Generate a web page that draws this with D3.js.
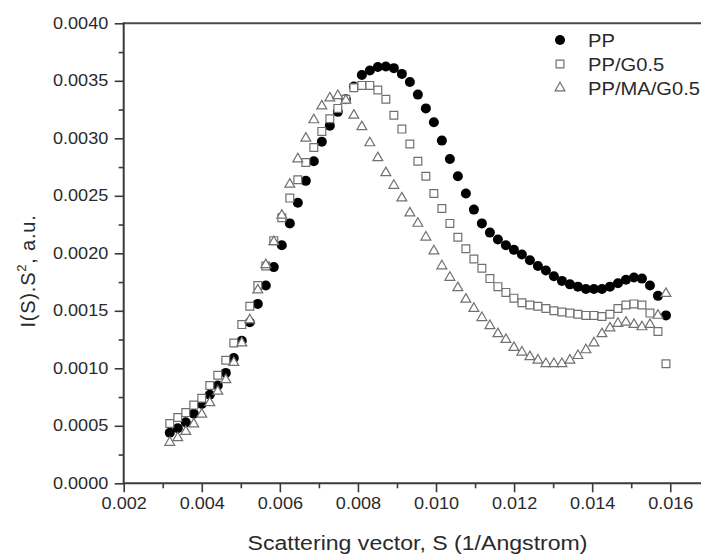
<!DOCTYPE html>
<html>
<head>
<meta charset="utf-8">
<script src="https://cdn.jsdelivr.net/npm/d3@7"></script>
<style>
  html, body { margin: 0; padding: 0; background: #fff; }
  svg { display: block; }
  text { font-family: "Liberation Sans", Arial, sans-serif; fill: #2a2a2a; }
</style>
</head>
<body>
<svg id="chart" width="701" height="554"></svg>
<script>
// ---- Data ----
const seriesNames = ["PP", "PP/G0.5", "PP/MA/G0.5"];

const sValues = [0.00318,0.003385,0.00359,0.003795,0.0040,0.004205,0.00441,0.004615,0.00482,0.005025,
  0.00523,0.005435,0.00564,0.005845,0.00605,0.006255,0.00646,0.006665,0.00687,0.007075,
  0.00728,0.007485,0.00769,0.007895,0.0081,0.008305,0.00851,0.008715,0.00892,0.009125,
  0.00933,0.009535,0.00974,0.009945,0.01015,0.010355,0.01056,0.010765,0.01097,0.011175,
  0.01138,0.011585,0.01179,0.011995,0.0122,0.012405,0.01261,0.012815,0.01302,0.013225,
  0.01343,0.013635,0.01384,0.014045,0.01425,0.014455,0.01466,0.014865,0.01507,0.015275,
  0.01548,0.015685,0.01589];

const ppValues = [0.00044,0.000478,0.00053,0.000605,0.00069,0.00077,0.00085,0.00096,0.00109,0.00124,
  0.00140,0.00156,0.00172,0.00188,0.00207,0.00226,0.00244,0.00263,0.00280,0.00297,
  0.00311,0.00323,0.00334,0.00345,0.00355,0.00359,0.00362,0.003625,0.00361,0.00356,
  0.00349,0.00338,0.00326,0.00314,0.00298,0.00282,0.00267,0.00252,0.00238,0.00226,
  0.00218,0.00212,0.00207,0.00203,0.00199,0.00194,0.00189,0.00185,0.00180,0.00176,
  0.00173,0.00171,0.00169,0.00169,0.00169,0.00171,0.00174,0.00177,0.00179,0.00178,
  0.00172,0.00163,0.00146];

const ppG05Values = [0.00052,0.000572,0.000615,0.00068,0.00074,0.00085,0.00094,0.00107,0.00122,0.00138,
  0.00154,0.00172,0.00189,0.00211,0.00231,0.00248,0.00264,0.00279,0.00292,0.00306,
  0.00317,0.00326,0.00334,0.00344,0.00346,0.00346,0.00342,0.00334,0.00320,0.00308,
  0.00295,0.00280,0.00267,0.00252,0.00239,0.00226,0.00214,0.00204,0.00195,0.00187,
  0.00178,0.00171,0.00166,0.00161,0.00157,0.00155,0.00154,0.00152,0.00150,0.00149,
  0.00148,0.00147,0.00146,0.00146,0.00145,0.00147,0.00152,0.00155,0.00156,0.00155,
  0.00148,0.00132,0.00104];

const ppMaG05Values = [0.000355,0.000395,0.00045,0.000515,0.0006,0.0007,0.0008,0.0009,0.00105,0.00122,
  0.00142,0.00168,0.00190,0.0021,0.00233,0.0026,0.00282,0.00300,0.00316,0.00328,
  0.00335,0.00337,0.00333,0.00320,0.00310,0.00296,0.00283,0.00270,0.00259,0.00248,
  0.00235,0.00226,0.00214,0.00202,0.00189,0.00179,0.00170,0.00160,0.00152,0.00144,
  0.00137,0.00130,0.00125,0.00118,0.00114,0.00110,0.00107,0.00104,0.00104,0.00104,
  0.00107,0.00111,0.00116,0.00122,0.00130,0.00135,0.00139,0.00140,0.00138,0.00136,
  0.00138,0.00146,0.00165];

const xTickValues = [0.002,0.004,0.006,0.008,0.010,0.012,0.014,0.016];
const xMinorTickValues = [0.003,0.005,0.007,0.009,0.011,0.013,0.015,0.017];
const yTickValues = [0.0000,0.0005,0.0010,0.0015,0.0020,0.0025,0.0030,0.0035,0.0040];
const yMinorTickValues = [0.00025,0.00075,0.00125,0.00175,0.00225,0.00275,0.00325,0.00375];

const xTitle = "Scattering vector, S (1/Angstrom)";

// ---- Layout ----
const svg = d3.select("#chart");
const X0 = 123.7, YB = 483.3, YT = 23.3;
const x = d3.scaleLinear().domain([0.002, 0.0171]).range([X0, X0 + 15.1 * 39.04]);
const y = d3.scaleLinear().domain([0, 0.004]).range([YB, YT]);
const axisColor = "#3a3a3a";
const textScale = 1.13;

// frame top line
svg.append("line")
  .attr("x1", X0).attr("x2", 701).attr("y1", y(0.004)).attr("y2", y(0.004))
  .attr("stroke", "#4a4a4a").attr("stroke-width", 2);

// minor ticks
svg.append("g").attr("transform", `translate(0,${YB})`)
  .call(d3.axisBottom(x).tickValues(xMinorTickValues).tickSize(5).tickFormat(""))
  .call(g => g.select(".domain").remove())
  .call(g => g.selectAll("line").attr("stroke", axisColor).attr("stroke-width", 1.6));
svg.append("g").attr("transform", `translate(${X0},0)`)
  .call(d3.axisLeft(y).tickValues(yMinorTickValues).tickSize(5).tickFormat(""))
  .call(g => g.select(".domain").remove())
  .call(g => g.selectAll("line").attr("stroke", axisColor).attr("stroke-width", 1.6));

// x axis
svg.append("g").attr("transform", `translate(0,${YB})`)
  .call(d3.axisBottom(x).tickValues(xTickValues).tickSize(9).tickSizeOuter(0).tickPadding(5)
        .tickFormat(d3.format(".3f")))
  .call(g => g.select(".domain").attr("stroke", axisColor).attr("stroke-width", 2)
        .attr("d", `M${X0},0H701`))
  .call(g => g.selectAll(".tick line").attr("stroke", axisColor).attr("stroke-width", 1.6))
  .call(g => g.selectAll(".tick text").attr("font-size", 16).attr("fill", "#333")
        .attr("font-family", "Liberation Sans, Arial, sans-serif")
        .attr("transform", `scale(${textScale},1)`));

// y axis
svg.append("g").attr("transform", `translate(${X0},0)`)
  .call(d3.axisLeft(y).tickValues(yTickValues).tickSize(9).tickSizeOuter(0).tickPadding(4.7)
        .tickFormat(d3.format(".4f")))
  .call(g => g.select(".domain").attr("stroke", axisColor).attr("stroke-width", 2)
        .attr("d", `M0,${YB + 1}V${YT - 1}`))
  .call(g => g.selectAll(".tick line").attr("stroke", axisColor).attr("stroke-width", 1.6))
  .call(g => g.selectAll(".tick text").attr("font-size", 16).attr("fill", "#333")
        .attr("font-family", "Liberation Sans, Arial, sans-serif")
        .attr("transform", `scale(${textScale},1)`));

// axis titles
svg.append("text")
  .attr("x", 417.5).attr("y", 550)
  .attr("text-anchor", "middle").attr("font-size", 20)
  .attr("textLength", 340).attr("lengthAdjust", "spacingAndGlyphs")
  .text(xTitle);

const yTitle = svg.append("text")
  .attr("transform", "translate(35,271) rotate(-90)")
  .attr("text-anchor", "middle").attr("font-size", 20)
  .attr("letter-spacing", 0.8);
yTitle.append("tspan").text("I(S).S");
yTitle.append("tspan").attr("font-size", 13).attr("dy", -9).text("2");
yTitle.append("tspan").attr("dy", 9).text(", a.u.");

// ---- Markers ----
const symCircle = d3.symbol().type(d3.symbolCircle).size(Math.PI * 5 * 5);
const symSquare = d3.symbol().type(d3.symbolSquare).size(7.8 * 7.8);
const symTriangle = d3.symbol().type(d3.symbolTriangle).size(42);

const series = [
  { name: seriesNames[0], values: ppValues, sym: symCircle, fill: "#000", stroke: "none", sw: 0 },
  { name: seriesNames[1], values: ppG05Values, sym: symSquare, fill: "#fff", stroke: "#707070", sw: 1.2 },
  { name: seriesNames[2], values: ppMaG05Values, sym: symTriangle, fill: "#fff", stroke: "#707070", sw: 1.2 }
];

series.forEach(s => {
  svg.append("g").selectAll("path")
    .data(sValues.map((sv, i) => [sv, s.values[i]]))
    .join("path")
    .attr("d", s.sym())
    .attr("transform", d => `translate(${x(d[0])},${y(d[1])})`)
    .attr("fill", s.fill)
    .attr("stroke", s.stroke)
    .attr("stroke-width", s.sw);
});

// ---- Legend ----
const legend = svg.append("g");
series.forEach((s, i) => {
  const cy = 40 + i * 24;
  legend.append("path").attr("d", s.sym())
    .attr("transform", `translate(560,${cy})`)
    .attr("fill", s.fill).attr("stroke", s.stroke).attr("stroke-width", s.sw);
  legend.append("text")
    .attr("transform", `translate(588,${cy + 6.5}) scale(1.12,1)`)
    .attr("font-size", 18).attr("fill", "#2a2a2a")
    .text(s.name);
});
</script>
</body>
</html>
